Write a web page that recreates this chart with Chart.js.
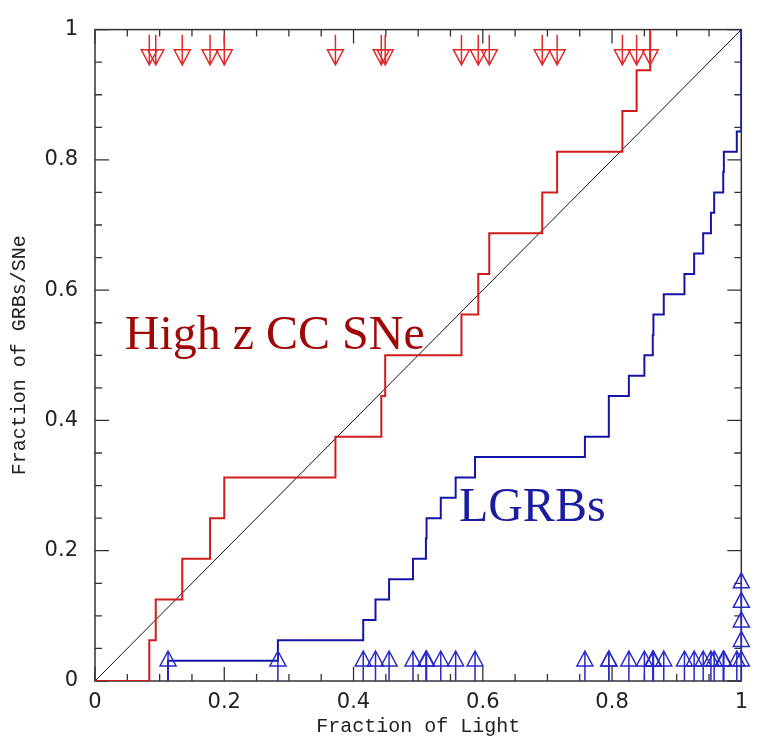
<!DOCTYPE html>
<html>
<head>
<meta charset="utf-8">
<script src="https://cdn.jsdelivr.net/npm/chart.js@4.4.1/dist/chart.umd.min.js"></script>
<style>
  html, body { margin: 0; padding: 0; background: #fff; }
</style>
</head>
<body>
<canvas id="cdfChart" width="757" height="740"></canvas>
<script>
// Fraction of light at each high-z CC SN (one step of 1/16 each)
const sneFractions = [0.084, 0.094, 0.135, 0.178, 0.200, 0.372, 0.443, 0.449,
  0.567, 0.593, 0.610, 0.692, 0.715, 0.816, 0.838, 0.859];

// Fraction of light at each LGRB (one step of 1/32 each)
const grbFractions = [0.113, 0.283, 0.415, 0.434, 0.455, 0.492, 0.512, 0.513,
  0.535, 0.558, 0.588, 0.758, 0.795, 0.795, 0.826, 0.850, 0.863, 0.864, 0.880,
  0.912, 0.927, 0.941, 0.953, 0.958, 0.972, 0.973, 0.993, 1, 1, 1, 1, 1];

const tickValues = [0, 0.2, 0.4, 0.6, 0.8, 1];
const tickLabels = ["0", "0.2", "0.4", "0.6", "0.8", "1"];
const minorStep = 0.05;

// Build a cumulative step curve from the sorted sample values
function cumulative(values, startAtZero) {
  const pts = [{ x: startAtZero ? 0 : values[0], y: 0 }];
  values.forEach((v, i) => pts.push({ x: v, y: (i + 1) / values.length }));
  return pts;
}

// Frame plus inward major/minor ticks on all four sides
const framePlugin = {
  id: "frame",
  beforeDatasetsDraw(chart) {
    const { ctx, chartArea: a, scales } = chart;
    ctx.save();
    ctx.strokeStyle = "#333";
    ctx.lineWidth = 1.5;
    ctx.strokeRect(a.left, a.top, a.right - a.left, a.bottom - a.top);
    ctx.lineWidth = 1.3;
    for (let k = 0; k <= 20; k++) {
      const v = k * minorStep;
      const len = k % 4 === 0 ? 14 : 7;
      const px = scales.x.getPixelForValue(v);
      const py = scales.y.getPixelForValue(v);
      ctx.beginPath();
      ctx.moveTo(px, a.bottom); ctx.lineTo(px, a.bottom - len);
      ctx.moveTo(px, a.top); ctx.lineTo(px, a.top + len);
      ctx.moveTo(a.left, py); ctx.lineTo(a.left + len, py);
      ctx.moveTo(a.right, py); ctx.lineTo(a.right - len, py);
      ctx.stroke();
    }
    ctx.restore();
  },
};

// Upper / lower limit arrows
function drawArrow(ctx, x, yStart, dir) {
  // dir = 1 points down, -1 points up
  ctx.beginPath();
  ctx.moveTo(x, yStart);
  ctx.lineTo(x, yStart + dir * 30);
  ctx.moveTo(x - 8, yStart + dir * 15);
  ctx.lineTo(x + 8, yStart + dir * 15);
  ctx.lineTo(x, yStart + dir * 30);
  ctx.closePath();
  ctx.stroke();
}

const arrowPlugin = {
  id: "arrows",
  afterDatasetsDraw(chart) {
    const { ctx, scales } = chart;
    ctx.save();
    ctx.lineWidth = 1.5;
    ctx.strokeStyle = "#e02a2a";
    sneFractions.forEach((v) => {
      drawArrow(ctx, scales.x.getPixelForValue(v), scales.y.getPixelForValue(0.992), 1);
    });
    ctx.strokeStyle = "#2a2ac8";
    const seen = {};
    grbFractions.forEach((v) => {
      const n = seen[v] || 0;
      seen[v] = n + 1;
      const stack = v === 1 ? n * 0.03 : 0;
      drawArrow(ctx, scales.x.getPixelForValue(v), scales.y.getPixelForValue(stack), -1);
    });
    ctx.restore();
  },
};

// Big in-plot labels for the two curves
const labelPlugin = {
  id: "curveLabels",
  afterDraw(chart) {
    const { ctx, scales } = chart;
    ctx.save();
    ctx.font = "48px 'Liberation Serif'";
    ctx.textBaseline = "alphabetic";
    ctx.fillStyle = "#a00808";
    ctx.fillText("High z CC SNe", scales.x.getPixelForValue(0.046), scales.y.getPixelForValue(0.51));
    ctx.fillStyle = "#1c1ca0";
    ctx.fillText("LGRBs", scales.x.getPixelForValue(0.563), scales.y.getPixelForValue(0.245));
    ctx.restore();
  },
};

const tickFont = { family: "'DejaVu Sans'", size: 21 };
const titleFont = { family: "'Liberation Mono'", size: 20 };

new Chart(document.getElementById("cdfChart"), {
  type: "scatter",
  data: {
    datasets: [
      {
        label: "LGRBs",
        data: cumulative(grbFractions, false),
        showLine: true,
        stepped: "before",
        borderColor: "#1414a8",
        borderWidth: 2,
        pointRadius: 0,
      },
      {
        label: "High z CC SNe",
        data: cumulative(sneFractions, true),
        showLine: true,
        stepped: "before",
        borderColor: "#d01c1c",
        borderWidth: 2,
        pointRadius: 0,
      },
      {
        label: "equal",
        data: [{ x: 0, y: 0 }, { x: 1, y: 1 }],
        showLine: true,
        borderColor: "#111",
        borderWidth: 1,
        pointRadius: 0,
      },
    ],
  },
  options: {
    responsive: false,
    animation: false,
    layout: { padding: { top: 18, right: 14, left: 0, bottom: 0 } },
    plugins: { legend: { display: false }, tooltip: { enabled: false } },
    scales: {
      x: {
        type: "linear",
        min: 0,
        max: 1,
        afterBuildTicks: (s) => { s.ticks = tickValues.map((v) => ({ value: v })); },
        afterFit: (s) => { s.height = 59; },
        grid: { display: false, drawTicks: false },
        border: { display: false },
        ticks: {
          font: tickFont,
          color: "#222",
          padding: 9,
          maxRotation: 0,
          callback: (v) => tickLabels[tickValues.indexOf(v)],
        },
        title: {
          display: true,
          text: "Fraction of Light",
          font: titleFont,
          color: "#222",
          padding: { top: 0, bottom: 1 },
        },
      },
      y: {
        type: "linear",
        min: 0,
        max: 1,
        afterBuildTicks: (s) => { s.ticks = tickValues.map((v) => ({ value: v })); },
        afterFit: (s) => { s.width = 95; },
        grid: { display: false, drawTicks: false },
        border: { display: false },
        ticks: {
          font: tickFont,
          color: "#222",
          padding: 17,
          callback: (v) => tickLabels[tickValues.indexOf(v)],
        },
        title: {
          display: true,
          text: "Fraction of GRBs/SNe",
          font: titleFont,
          color: "#222",
          padding: { top: 8, bottom: 0 },
        },
      },
    },
  },
  plugins: [framePlugin, arrowPlugin, labelPlugin],
});
</script>
</body>
</html>
